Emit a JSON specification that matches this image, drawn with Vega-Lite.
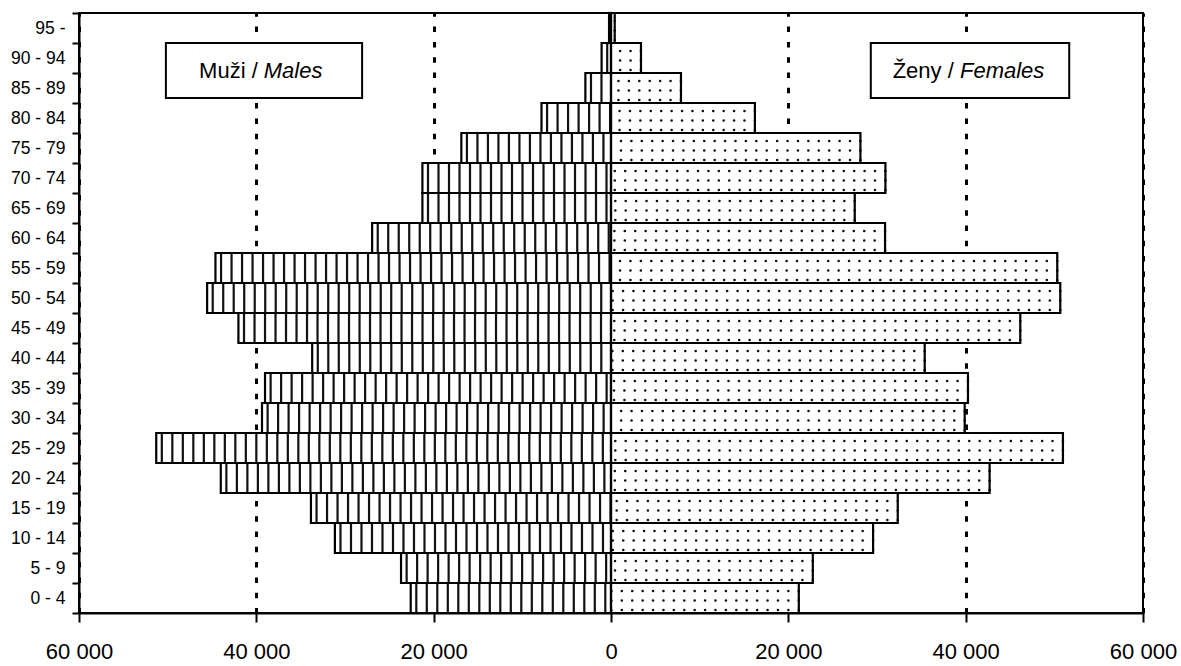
{
  "$schema": "https://vega.github.io/schema/vega-lite/v6.json",
  "width": 1064,
  "height": 600,
  "autosize": {"type": "none"},
  "padding": {"left": 79, "top": 13, "right": 38, "bottom": 53},
  "background": "white",
  "config": {
    "font": "Liberation Sans",
    "view": {"stroke": "black", "strokeWidth": 2}
  },
  "data": {
    "values": [
      {"age": "95 -", "male": -220, "female": 420},
      {"age": "90 - 94", "male": -1060, "female": 3380},
      {"age": "85 - 89", "male": -2890, "female": 7890},
      {"age": "80 - 84", "male": -7840, "female": 16230},
      {"age": "75 - 79", "male": -16880, "female": 28130},
      {"age": "70 - 74", "male": -21270, "female": 30950},
      {"age": "65 - 69", "male": -21270, "female": 27490},
      {"age": "60 - 64", "male": -26940, "female": 30910},
      {"age": "55 - 59", "male": -44610, "female": 50330},
      {"age": "50 - 54", "male": -45550, "female": 50670},
      {"age": "45 - 49", "male": -42020, "female": 46160},
      {"age": "40 - 44", "male": -33700, "female": 35380},
      {"age": "35 - 39", "male": -39020, "female": 40260},
      {"age": "30 - 34", "male": -39360, "female": 39890},
      {"age": "25 - 29", "male": -51290, "female": 50970},
      {"age": "20 - 24", "male": -44010, "female": 42700},
      {"age": "15 - 19", "male": -33840, "female": 32340},
      {"age": "10 - 14", "male": -31140, "female": 29560},
      {"age": "5 -  9", "male": -23680, "female": 22760},
      {"age": "0 -  4", "male": -22590, "female": 21180}
    ]
  },
  "encoding": {
    "y": {
      "field": "age",
      "type": "nominal",
      "sort": null,
      "scale": {"paddingInner": 0, "paddingOuter": 0},
      "axis": {
        "title": null,
        "tickBand": "extent",
        "domainColor": "black",
        "domainWidth": 2,
        "tickColor": "black",
        "tickWidth": 2,
        "tickSize": 7,
        "labelPadding": 7,
        "labelFontSize": 17.5,
        "labelColor": "black",
        "labelFont": "Liberation Sans"
      }
    }
  },
  "layer": [
    {
      "mark": {"type": "bar", "fill": "white", "strokeWidth": 0},
      "encoding": {
        "x": {
          "field": "male",
          "type": "quantitative",
          "scale": {"domain": [-60000, 60000], "nice": false, "zero": false},
          "axis": {
            "title": null,
            "values": [-60000, -40000, -20000, 0, 20000, 40000, 60000],
            "labelExpr": "replace(format(abs(datum.value), ',d'), ',', ' ')",
            "domainColor": "black",
            "domainWidth": 2,
            "tickColor": "black",
            "tickWidth": 2,
            "tickSize": 9,
            "labelPadding": 19,
            "labelFontSize": 22,
            "labelColor": "black",
            "labelFont": "Liberation Sans",
            "labelFlush": false,
            "grid": true,
            "gridColor": "black",
            "gridWidth": 3,
            "gridDash": [5.5, 9.8]
          }
        },
        "x2": {"datum": 0}
      }
    },
    {
      "mark": {"type": "bar", "fill": "white", "strokeWidth": 0},
      "encoding": {
        "x": {"field": "female", "type": "quantitative"},
        "x2": {"datum": 0}
      }
    },
    {
      "mark": {"type": "rule", "color": "#111", "strokeWidth": 30, "strokeDash": [2.2, 8.3], "strokeDashOffset": 6, "strokeCap": "butt"},
      "encoding": {
        "x": {"field": "male", "type": "quantitative"},
        "x2": {"datum": 0}
      }
    },
    {
      "mark": {"type": "rule", "color": "#111", "strokeWidth": 2.6, "strokeDash": [0.01, 10.4], "strokeCap": "round", "yOffset": -7},
      "encoding": {
        "x": {"field": "female", "type": "quantitative"},
        "x2": {"datum": 0}
      }
    },
    {
      "mark": {"type": "rule", "color": "#111", "strokeWidth": 2.6, "strokeDash": [0.01, 10.4], "strokeCap": "round", "yOffset": 2.5},
      "encoding": {
        "x": {"field": "female", "type": "quantitative"},
        "x2": {"datum": 0}
      }
    },
    {
      "mark": {"type": "rule", "color": "#111", "strokeWidth": 2.6, "strokeDash": [0.01, 10.4], "strokeCap": "round", "yOffset": 12},
      "encoding": {
        "x": {"field": "female", "type": "quantitative"},
        "x2": {"datum": 0}
      }
    },
    {
      "mark": {"type": "bar", "fillOpacity": 0, "stroke": "black", "strokeWidth": 2.2},
      "encoding": {
        "x": {"field": "male", "type": "quantitative"},
        "x2": {"datum": 0}
      }
    },
    {
      "mark": {"type": "bar", "fillOpacity": 0, "stroke": "black", "strokeWidth": 2.2},
      "encoding": {
        "x": {"field": "female", "type": "quantitative"},
        "x2": {"datum": 0}
      }
    },
    {
      "data": {"values": [{"box": "Muži / Males"}]},
      "mark": {"type": "rect", "fill": "white", "stroke": "black", "strokeWidth": 2, "height": 55, "yOffset": 12.5},
      "encoding": {
        "x": {"datum": -50200, "type": "quantitative"},
        "x2": {"datum": -28070},
        "y": {"datum": "90 - 94", "type": "nominal"}
      }
    },
    {
      "data": {"values": [{"box": "Ženy / Females"}]},
      "mark": {"type": "rect", "fill": "white", "stroke": "black", "strokeWidth": 2, "height": 55, "yOffset": 12.5},
      "encoding": {
        "x": {"datum": 29300, "type": "quantitative"},
        "x2": {"datum": 51680},
        "y": {"datum": "90 - 94", "type": "nominal"}
      }
    },
    {
      "data": {"values": [{"t": "Muži /"}]},
      "mark": {"type": "text", "align": "right", "baseline": "middle", "fontSize": 22, "color": "black", "font": "Liberation Sans", "yOffset": 13},
      "encoding": {
        "text": {"field": "t", "type": "nominal"},
        "x": {"datum": -39840, "type": "quantitative"},
        "y": {"datum": "90 - 94", "type": "nominal"}
      }
    },
    {
      "data": {"values": [{"t": "Males"}]},
      "mark": {"type": "text", "align": "left", "baseline": "middle", "fontSize": 22, "fontStyle": "italic", "color": "black", "font": "Liberation Sans", "yOffset": 13},
      "encoding": {
        "text": {"field": "t", "type": "nominal"},
        "x": {"datum": -39160, "type": "quantitative"},
        "y": {"datum": "90 - 94", "type": "nominal"}
      }
    },
    {
      "data": {"values": [{"t": "Ženy /"}]},
      "mark": {"type": "text", "align": "right", "baseline": "middle", "fontSize": 22, "color": "black", "font": "Liberation Sans", "yOffset": 13},
      "encoding": {
        "text": {"field": "t", "type": "nominal"},
        "x": {"datum": 38660, "type": "quantitative"},
        "y": {"datum": "90 - 94", "type": "nominal"}
      }
    },
    {
      "data": {"values": [{"t": "Females"}]},
      "mark": {"type": "text", "align": "left", "baseline": "middle", "fontSize": 22, "fontStyle": "italic", "color": "black", "font": "Liberation Sans", "yOffset": 13},
      "encoding": {
        "text": {"field": "t", "type": "nominal"},
        "x": {"datum": 39360, "type": "quantitative"},
        "y": {"datum": "90 - 94", "type": "nominal"}
      }
    }
  ]
}
